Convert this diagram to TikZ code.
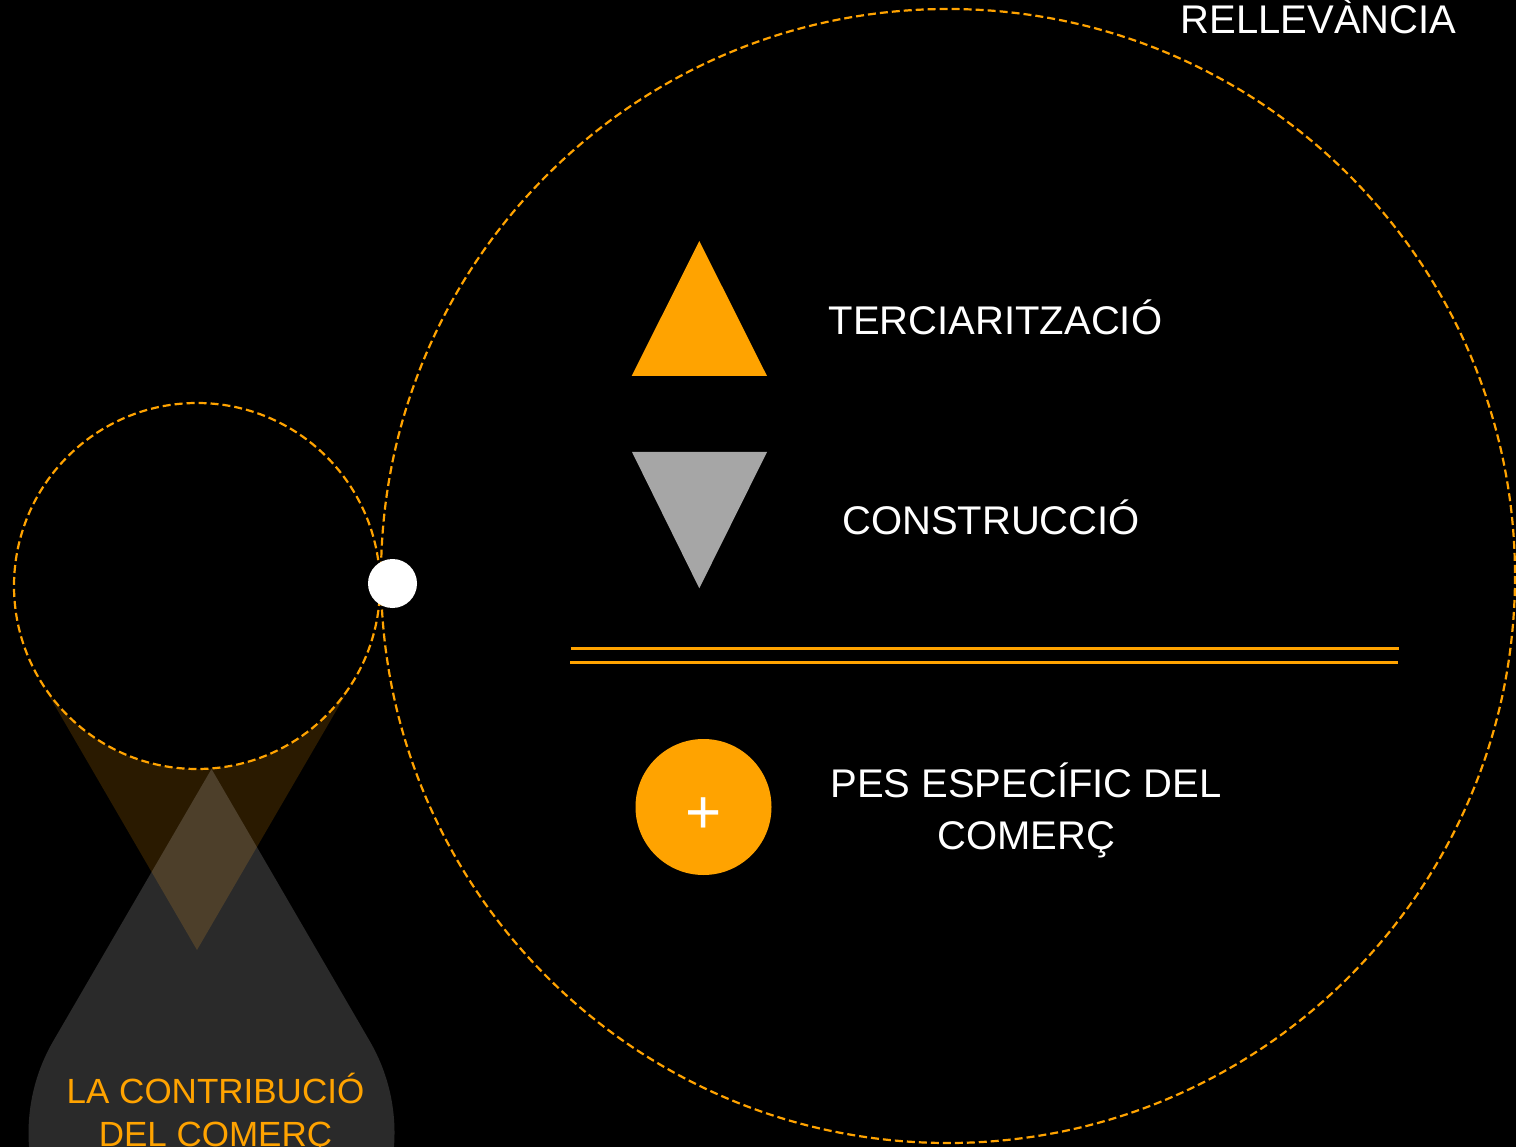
\documentclass[tikz,border=0pt]{standalone}
\usepackage{fontspec}
\setmainfont{Liberation Sans}
\definecolor{orng}{RGB}{255,163,0}
\definecolor{trigray}{RGB}{166,166,166}
\begin{document}
\begin{tikzpicture}[x=1pt,y=-1pt,
  lbl/.style={text=white,font=\fontsize{40}{52}\selectfont,inner sep=0pt,align=center},
  olbl/.style={text=orng,font=\fontsize{35}{43}\selectfont,inner sep=0pt,align=center},
  dashcirc/.style={draw=orng,line width=2.2pt,dash pattern=on 8pt off 4pt},
  rule/.style={draw=orng,line width=3pt}]
\fill[black] (0,0) rectangle (1516,1147);
\useasboundingbox (0,0) rectangle (1516,1147);
\clip (0,0) rectangle (1516,1147);
% cone below the small circle
\coordinate (c1) at (197,586);
\coordinate (a1) at (197,950);
\coordinate (t1l) at (38.85,678.05);
\coordinate (t1r) at (355.15,678.05);
\fill[orng,opacity=0.165] (t1l) -- (a1) -- (t1r) -- cycle;
\fill[black] (c1) circle[radius=183];
\draw[dashcirc] (c1) circle[radius=183];
% drop
\coordinate (a2) at (211.5,769);
\coordinate (t2r) at (369.65,1040.95);
\fill[white,opacity=0.165] (a2) -- (t2r) arc[start angle=-30.2,end angle=210.2,radius=183] -- cycle;
\node[olbl,anchor=base] (contrib) at (215.5,1146) {LA CONTRIBUCIÓ\\DEL COMERÇ};
% big circle
\draw[dashcirc] (948,576) circle[radius=567];
\node[circle,fill=white,minimum size=49pt,inner sep=0pt] (dot) at (392.5,583.5) {};
\node[text=white,font=\fontsize{40}{48}\selectfont,inner sep=0pt,anchor=base] (rel) at (1318.5,34) {RELLEVÀNCIA};
% triangles
\fill[orng] (699.3,241) -- (767,376) -- (631.7,376) -- cycle;
\fill[trigray] (632,452) -- (767,452) -- (699.3,588.3) -- cycle;
\node[lbl,anchor=base] (terc) at (995.5,335) {TERCIARITZACIÓ};
\node[lbl,anchor=base] (cons) at (991,534) {CONSTRUCCIÓ};
% double rule
\coordinate (r1a) at (570.5,648.7);
\coordinate (r1b) at (1399,648.7);
\coordinate (r2a) at (570,662);
\coordinate (r2b) at (1398,662);
\draw[rule] (r1a) -- (r1b);
\draw[rule] (r2a) -- (r2b);
% plus circle
\node[circle,fill=orng,minimum size=136pt,inner sep=0pt] (pluscirc) at (703.5,807) {};
\node[text=white,font=\fontsize{62}{62}\selectfont,inner sep=0pt] (plus) at (703.5,816) {+};
\node[lbl,anchor=base] (pes) at (1026,849) {PES ESPECÍFIC DEL\\COMERÇ};
\end{tikzpicture}
\end{document}
